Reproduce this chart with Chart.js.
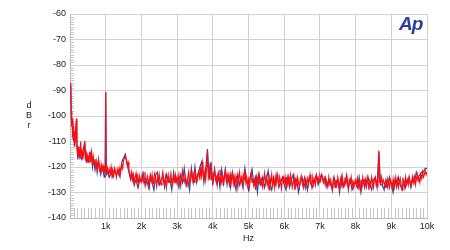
<!DOCTYPE html>
<html>
<head>
<meta charset="utf-8">
<script src="https://cdn.jsdelivr.net/npm/chart.js@4/dist/chart.umd.min.js"></script>
<style>
  html, body { margin: 0; padding: 0; background: #fff; }
  #wrap { position: relative; width: 450px; height: 250px; }
  #c { position: absolute; left: 0; top: 0; }
  .ylab { position: absolute; left: 24px; top: 100px; width: 10px; text-align: center;
          font: 9px "Liberation Sans", Arial, sans-serif; color: #222; line-height: 10px; }
  .logo { position: absolute; left: 399px; top: 14px; font: italic bold 19px "Liberation Sans", Arial, sans-serif;
          color: #2b3c9e; line-height: 1; letter-spacing: -1px; }
</style>
</head>
<body>
<div id="wrap">
  <canvas id="c" width="450" height="250"></canvas>
  <div class="ylab">d<br>B<br>r</div>
  <div class="logo">Ap</div>
</div>
<script>
// Red trace: frequencies (Hz)
const redFreqs = [
  20,35,50,60,75,90,105,120,135,150,165,180,195,210,225,240,260,280,300,320,
  340,360,380,400,420,440,460,480,500,525,550,575,600,625,650,675,700,725,750,775,
  800,825,850,875,900,925,950,975,990,1000,1010,1025,1050,
  1075,1100,1125,1150,1175,1200,1225,1250,1275,1300,1325,1350,1375,1400,1425,1450,1475,1500,1525,1550,
  1575,1600,1625,1650,1675,1700,1725,1750,1775,1800,1825,1850,1875,1900,1925,1950,1975,
  2000,2025,2050,2075,2100,2125,2150,2175,2200,2225,2250,2275,2300,2325,2350,2375,2400,2425,2450,2475,
  2500,2525,2550,2575,2600,2625,2650,2675,2700,2725,2750,2775,2800,2825,2850,2875,2900,2925,2950,2975,
  3000,3025,3050,3075,3100,3125,3150,3175,3200,3225,3250,3275,3300,3325,3350,3375,3400,3425,3450,3475,
  3500,3525,3550,3575,3600,3625,3650,3675,3700,3725,3750,3775,3800,3825,3850,3875,3900,3925,3950,3975,
  4000,4025,4050,4075,4100,4125,4150,4175,4200,4225,4250,4275,4300,4325,4350,4375,4400,4425,4450,4475,
  4500,4525,4550,4575,4600,4625,4650,4675,4700,4725,4750,4775,4800,4825,4850,4875,4900,4925,4950,4975,
  5000,5025,5050,5075,5100,5125,5150,5175,5200,5225,5250,5275,5300,5325,5350,5375,5400,5425,5450,5475,
  5500,5525,5550,5575,5600,5625,5650,5675,5700,5725,5750,5775,5800,5825,5850,5875,5900,5925,5950,5975,
  6000,6025,6050,6075,6100,6125,6150,6175,6200,6225,6250,6275,6300,6325,6350,6375,6400,6425,6450,6475,
  6500,6525,6550,6575,6600,6625,6650,6675,6700,6725,6750,6775,6800,6825,6850,6875,6900,6925,6950,6975,
  7000,7025,7050,7075,7100,7125,7150,7175,7200,7225,7250,7275,7300,7325,7350,7375,7400,7425,7450,7475,
  7500,7525,7550,7575,7600,7625,7650,7675,7700,7725,7750,7775,7800,7825,7850,7875,7900,7925,7950,7975,
  8000,8025,8050,8075,8100,8125,8150,8175,8200,8225,8250,8275,8300,8325,8350,8375,8400,8425,8450,8475,
  8500,8525,8550,8575,8600,8625,8650,8675,8700,8725,8750,8775,8800,8825,8850,8875,8900,8925,8950,8975,
  9000,9025,9050,9075,9100,9125,9150,9175,9200,9225,9250,9275,9300,9325,9350,9375,9400,9425,9450,9475,
  9500,9525,9550,9575,9600,9625,9650,9675,9700,9725,9750,9775,9800,9825,9850,9875,9900,9925,9950,9975,
  10000
];

// Red trace: level (dBr)
const redValues = [
  -87,-98,-104,-101,-108,-104,-110,-106,-112,-109,-104,-101,-111,-115,-112,-116,-113,-117,-110,-116,
  -114,-117,-115,-113,-110,-117,-115,-118,-116,-117.5,-114,-118,-113.5,-119,-116,-119,-117,-120,-118,-121,
  -117.5,-120,-122,-119,-121,-119.5,-122.5,-120.5,-122,-90.5,-121,-122.5,-120.5,
  -123,-121,-122.5,-120,-123,-121.5,-123.5,-120.5,-122,-124,-121,-122.5,-120.5,-123,-121,-119,-120.5,-117.5,-116.5,-115.5,
  -117,-119,-118,-121,-122.5,-124.5,-122,-125,-123,-126.5,-124,-122.5,-126,-124,-127,-123.5,-125.5,
  -125,-123,-126,-124.5,-122,-127,-125,-123.5,-126,-128,-124,-125.5,-123,-126.5,-124,-122.5,-125,-127.5,-124,-126,
  -123,-125.5,-127,-124,-122,-125,-126.5,-124,-128,-125,-123,-126,-124.5,-122.5,-126,-127,-124,-125.5,-123,-126,
  -124,-126.5,-123,-125,-127.5,-124,-121.5,-125,-126,-123.5,-125,-128,-124,-122,-126,-124.5,-121,-125,-123,-126,
  -121,-124,-125.5,-123,-122,-124,-120,-125,-118,-123,-124.5,-122,-125,-121,-114,-124,-122,-118.5,-125,-122,
  -126,-123,-121,-125,-124,-127,-123,-125.5,-121,-124,-126,-123,-127.5,-124,-121.5,-125,-123,-126,-124,-128,
  -123,-125,-122,-126.5,-124,-127,-123.5,-125,-128,-124,-122,-126,-124.5,-127,-123,-125,-121,-126,-124,-127,
  -125,-128,-124,-122,-126,-124.5,-127,-125,-129,-124,-126,-123,-125.5,-127,-124,-126,-128,-125,-122.5,-126,
  -124,-127,-125,-129,-124.5,-126,-123,-127,-125,-128,-124,-126.5,-123,-125,-127,-124,-126,-128.5,-125,-124,
  -126,-124,-128,-125,-127,-124,-126.5,-123,-125,-128,-126,-124,-129,-125.5,-127,-124,-126,-128,-125,-123.5,
  -126,-127.5,-125,-124,-128,-126,-124.5,-127,-125,-123,-126,-128,-124,-126.5,-125,-127,-123.5,-125,-124,-126,
  -123.5,-125,-123,-124,-126,-124.5,-127,-125,-126,-128,-124,-126.5,-125,-127,-129,-124.5,-126,-128,-125,-127,
  -124,-126,-128.5,-125,-127,-123.5,-126,-128,-125,-126.5,-124,-127,-129,-125,-126,-124,-127.5,-125,-128,-126,
  -125,-127,-124.5,-128,-126,-129,-125,-127,-124,-126.5,-128,-125,-127,-124,-126,-129,-125.5,-127,-124,-126,
  -128,-125,-124,-127,-125.5,-128,-113.5,-126,-126,-124,-127,-125,-126,-128,-125,-127,-124.5,-126,-128,-125,
  -126,-128,-125,-129,-126.5,-124,-127,-125,-128,-126,-124.5,-127,-129,-125,-126,-128,-124,-126.5,-125,-127,
  -124,-126,-128,-125,-123.5,-126,-124,-127,-125,-123,-125.5,-124,-126,-123,-124.5,-122,-124,-123,-121.5,-123,
  -122
];

// Blue trace: frequencies (Hz)
const blueFreqs = [
  20,40,60,80,100,120,150,180,200,220,250,280,300,330,360,400,430,460,500,530,
  560,600,630,660,700,730,760,800,830,860,900,930,960,980,1000,1020,1050,
  1100,1150,1200,1250,1300,1350,1400,1450,1500,1550,1600,1650,1700,1750,1800,1850,1900,1950,
  2000,2050,2100,2150,2200,2250,2300,2350,2400,2450,2500,2550,2600,2650,2700,2750,2800,2850,2900,2950,
  3000,3050,3100,3150,3200,3250,3300,3350,3400,3450,3500,3550,3600,3650,3700,3750,3800,3850,3900,3950,
  4000,4050,4100,4150,4200,4250,4300,4350,4400,4450,4500,4550,4600,4650,4700,4750,4800,4850,4900,4950,
  5000,5050,5100,5150,5200,5250,5300,5350,5400,5450,5500,5550,5600,5650,5700,5750,5800,5850,5900,5950,
  6000,6050,6100,6150,6200,6250,6300,6350,6400,6450,6500,6550,6600,6650,6700,6750,6800,6850,6900,6950,
  7000,7050,7100,7150,7200,7250,7300,7350,7400,7450,7500,7550,7600,7650,7700,7750,7800,7850,7900,7950,
  8000,8050,8100,8150,8200,8250,8300,8350,8400,8450,8500,8550,8600,8650,8700,8750,8800,8850,8900,8950,
  9000,9050,9100,9150,9200,9250,9300,9350,9400,9450,9500,9550,9600,9650,9700,9750,9800,9850,9900,9950,
  10000
];

// Blue trace: level (dBr)
const blueValues = [
  -88,-103,-102,-108,-107,-111,-109,-102,-113,-117,-112,-116,-116,-117,-114,-111,-117,-118,-116,-118,
  -118,-114,-120,-117,-121,-118,-122,-117,-121,-123,-120,-122,-124,-122,-91,-123,-122,
  -124,-122,-124,-121,-123,-122,-124,-118,-116.5,-115,-119,-122,-125,-123,-127,-125,-128,-125,
  -126,-122.5,-127,-125,-128,-123,-126,-129,-123,-122,-127,-125,-124,-128,-123,-126,-125,-129,-122,-126,
  -125,-128,-123,-126,-120.5,-127,-125,-129,-120.5,-126,-120,-126,-122,-119.5,-117.5,-126,-121,-113,-125,-118,
  -127,-121,-126,-122.5,-128,-121,-126,-121,-127,-123,-128,-122,-126,-129,-123,-127,-124,-128,-120.5,-126,
  -129,-124,-121,-127,-124,-130,-123,-127,-124,-128,-125,-121.5,-127,-129,-124,-127,-123,-128,-126,-124,
  -127,-129,-124,-128,-125,-123,-128,-125,-130,-126,-124,-128,-125,-129,-124,-127,-128,-125,-123,-127,
  -125,-123,-126,-124,-128,-125,-127,-129,-124,-127,-125,-130,-124,-128,-126,-123,-128,-125,-129,-127,
  -126,-128,-124,-130,-126,-125,-128,-124,-127,-129,-125,-124,-128,-114,-127,-127,-129,-125,-128,-124,
  -127,-130,-125,-128,-124,-127,-129,-125,-128,-126,-124,-128,-125,-126,-122,-124,-123,-122,-122,-120.5,
  -120.5
];

// Axis settings
const xTickValues = [1000,2000,3000,4000,5000,6000,7000,8000,9000,10000];
const xTickLabels = ['1k','2k','3k','4k','5k','6k','7k','8k','9k','10k'];
const yMin = -140, yMax = -60;

const toPoints = (fs, vals) => fs.map((f, i) => ({ x: f, y: vals[i] }));

const minorTicks = {
  id: 'minorTicks',
  beforeDatasetsDraw(chart) {
    const { ctx, chartArea, scales } = chart;
    const xs = scales.x, ys = scales.y;
    ctx.save();
    ctx.strokeStyle = '#c6c6c6';
    ctx.lineWidth = 1;
    ctx.beginPath();
    for (let f = 100; f < 10000; f += 100) {
      if (f % 1000 === 0) continue;
      const px = Math.round(xs.getPixelForValue(f)) + 0.5;
      ctx.moveTo(px, chartArea.bottom);
      ctx.lineTo(px, chartArea.bottom - 10);
    }
    for (let v = yMin + 1; v < yMax; v += 1) {
      if (v % 10 === 0) continue;
      const py = Math.round(ys.getPixelForValue(v)) + 0.5;
      ctx.moveTo(chartArea.left, py);
      ctx.lineTo(chartArea.left + 4, py);
    }
    ctx.stroke();
    ctx.restore();
  }
};

const font = { family: '"Liberation Sans", Arial, sans-serif', size: 9 };

new Chart(document.getElementById('c'), {
  type: 'line',
  data: {
    datasets: [
      { label: 'red', data: toPoints(redFreqs, redValues), borderColor: '#ff0d0d', borderWidth: 1.2,
        pointRadius: 0, tension: 0, fill: false },
      { label: 'blue', data: toPoints(blueFreqs, blueValues), borderColor: '#2e4aa8', borderWidth: 1.2,
        pointRadius: 0, tension: 0, fill: false }
    ]
  },
  options: {
    responsive: false,
    animation: false,
    events: [],
    layout: { padding: { left: 0, right: 23, top: 14, bottom: 0 } },
    plugins: { legend: { display: false }, tooltip: { enabled: false } },
    scales: {
      x: {
        type: 'linear', min: 0, max: 10000,
        afterBuildTicks: s => { s.ticks = [0].concat(xTickValues).map(v => ({ value: v })); },
        afterFit: s => { s.height = 32; },
        grid: { color: '#d2d2d2', drawTicks: false },
        border: { color: '#bdbdbd' },
        ticks: {
          padding: 3, color: '#222', font: font, maxRotation: 0, autoSkip: false,
          callback: v => { const i = xTickValues.indexOf(v); return i < 0 ? '' : xTickLabels[i]; }
        },
        title: { display: true, text: 'Hz', color: '#222', font: font, padding: { top: 0, bottom: 6 } }
      },
      y: {
        min: yMin, max: yMax,
        afterFit: s => { s.width = 70; },
        grid: { color: '#d2d2d2', drawTicks: false },
        border: { color: '#bdbdbd' },
        ticks: { stepSize: 10, padding: 4, color: '#222', font: font }
      }
    }
  },
  plugins: [minorTicks]
});
</script>
</body>
</html>
